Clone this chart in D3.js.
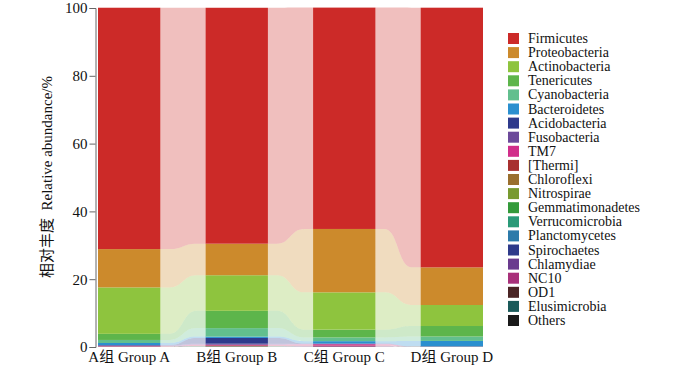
<!DOCTYPE html>
<html>
<head>
<meta charset="utf-8">
<script src="https://cdn.jsdelivr.net/npm/d3@7"></script>
<style>
body { margin: 0; background: #fff; }
svg text { font-family: "Liberation Serif", "Times New Roman", "Noto Sans CJK SC", serif; }
</style>
</head>
<body>
<script>
var groups = ['A组 Group A', 'B组 Group B', 'C组 Group C', 'D组 Group D'];
var phyla = ['Firmicutes', 'Proteobacteria', 'Actinobacteria', 'Tenericutes', 'Cyanobacteria',
	'Bacteroidetes', 'Acidobacteria', 'Fusobacteria', 'TM7', '[Thermi]', 'Chloroflexi',
	'Nitrospirae', 'Gemmatimonadetes', 'Verrucomicrobia', 'Planctomycetes', 'Spirochaetes',
	'Chlamydiae', 'NC10', 'OD1', 'Elusimicrobia', 'Others'];
var colors = ['#cc2a28', '#cc8a2c', '#8ec43e', '#5db54b', '#62bf8e', '#2a8fcf', '#2e3a8c',
	'#6c4a9a', '#d12e8a', '#a8302f', '#9a6f2e', '#789a30', '#339a3a', '#2a9a78', '#2c7aaa',
	'#2e3a8a', '#6a3b8e', '#a8307a', '#4a2424', '#1a5a5a', '#1a1a1a'];

// relative abundance (%) per group, same order as phyla
var groupA = [71.2, 11.3, 13.7, 1.8, 0.9, 0.6, 0.1, 0.2, 0.1, 0.05, 0.02, 0.01, 0.01, 0.01, 0.01, 0.01, 0.01, 0.01, 0.01, 0.01, 0.02];
var groupB = [69.6, 9.3, 10.5, 5.1, 2.5, 0.4, 1.7, 0.3, 0.2, 0.2, 0.05, 0.03, 0.03, 0.02, 0.02, 0.02, 0.02, 0.02, 0.02, 0.01, 0.03];
var groupC = [65.3, 18.7, 11.0, 2.3, 1.1, 0.7, 0.1, 0.1, 0.4, 0.1, 0.02, 0.01, 0.01, 0.01, 0.01, 0.01, 0.01, 0.2, 0.01, 0.01, 0.02];
var groupD = [76.6, 11.1, 6.2, 3.1, 1.3, 1.6, 0.02, 0.01, 0.03, 0.01, 0.01, 0.01, 0.01, 0.01, 0.01, 0.01, 0.01, 0.01, 0.01, 0.01, 0.02];
var yTicks = [0, 20, 40, 60, 80, 100];

var values = [groupA, groupB, groupC, groupD];

var rows = groups.map(function(g, i) {
	var r = {group: g};
	phyla.forEach(function(p, j) { r[p] = values[i][j]; });
	return r;
});

// stack bottom-up: Others first, Firmicutes on top
var stack = d3.stack().keys(phyla.slice().reverse());
var series = stack(rows);

var svg = d3.select('body').append('svg').attr('width', 700).attr('height', 369);

var x = d3.scaleBand().domain(groups).range([98, 483]).paddingInner(0.42).paddingOuter(0);
var y = d3.scaleLinear().domain([0, 100]).range([347, 8]);
var color = d3.scaleOrdinal().domain(phyla).range(colors);

// flows between neighbouring bars
var flow = d3.area()
	.x(function(d) { return d.x; })
	.y0(function(d) { return y(d.y0); })
	.y1(function(d) { return y(d.y1); })
	.curve(d3.curveBumpX);

series.forEach(function(s) {
	for (var i = 0; i < groups.length - 1; i++) {
		var x0 = x(groups[i]) + x.bandwidth();
		var x1 = x(groups[i + 1]);
		var g = x1 - x0;
		var pts = [
			{x: x0, y0: s[i][0], y1: s[i][1]},
			{x: x0 + g * 0.2, y0: s[i][0], y1: s[i][1]},
			{x: x1 - g * 0.2, y0: s[i + 1][0], y1: s[i + 1][1]},
			{x: x1, y0: s[i + 1][0], y1: s[i + 1][1]}
		];
		svg.append('path')
			.attr('d', flow(pts))
			.attr('fill', color(s.key))
			.attr('fill-opacity', 0.3);
	}
});

// bars
svg.selectAll('.layer')
	.data(series)
	.enter()
	.append('g')
	.attr('class', 'layer')
	.attr('fill', function(s) { return color(s.key); })
	.selectAll('rect')
	.data(function(s) { return s; })
	.enter()
	.append('rect')
	.attr('x', function(d) { return x(d.data.group); })
	.attr('width', x.bandwidth())
	.attr('y', function(d) { return y(d[1]); })
	.attr('height', function(d) { return y(d[0]) - y(d[1]); });

// y axis
var yAxis = svg.append('g')
	.attr('transform', 'translate(95.5,0)')
	.call(d3.axisLeft(y).tickValues(yTicks).tickSize(6).tickPadding(2));
yAxis.selectAll('path, line').attr('stroke', '#666');
yAxis.selectAll('text').attr('font-size', 15).attr('fill', '#111')
	.style('font-family', '"Liberation Serif", serif');

svg.append('text')
	.attr('transform', 'translate(52,177) rotate(-90)')
	.attr('text-anchor', 'middle')
	.attr('font-size', 15)
	.attr('fill', '#111')
	.style('white-space', 'pre')
	.text('相对丰度  Relative abundance/%');

// x labels
svg.selectAll('.xlab')
	.data(groups)
	.enter()
	.append('text')
	.attr('class', 'xlab')
	.attr('x', function(d) { return x(d) + x.bandwidth() / 2; })
	.attr('y', 362)
	.attr('text-anchor', 'middle')
	.attr('font-size', 15)
	.attr('fill', '#111')
	.text(function(d) { return d; });

// legend
var legend = svg.selectAll('.legend')
	.data(phyla)
	.enter()
	.append('g')
	.attr('class', 'legend')
	.attr('transform', function(d, i) { return 'translate(508,' + (33 + i * 14.1) + ')'; });

legend.append('rect')
	.attr('width', 11)
	.attr('height', 11)
	.attr('fill', function(d) { return color(d); });

legend.append('text')
	.attr('x', 20)
	.attr('y', 10)
	.attr('font-size', 14)
	.attr('fill', '#111')
	.text(function(d) { return d; });
</script>
</body>
</html>
